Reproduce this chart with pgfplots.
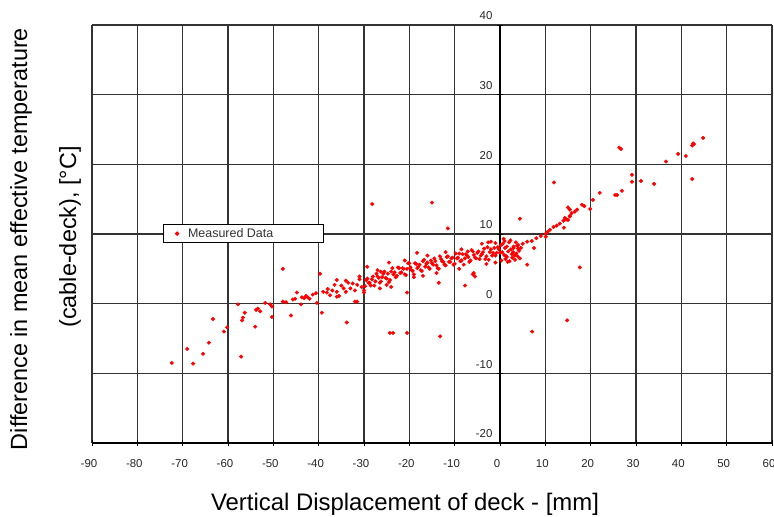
\documentclass[border=0pt]{standalone}
\usepackage{fontspec}
\setmainfont{Liberation Sans}
\usepackage{pgfplots}
\pgfplotsset{compat=1.18}

\begin{document}
\begin{tikzpicture}
\useasboundingbox (0bp,0bp) rectangle (774bp,517bp);
\begin{axis}[
  at={(92bp,74bp)}, anchor=south west,
  width=680bp, height=418bp, scale only axis,
  xmin=-90, xmax=60, ymin=-20, ymax=40,
  xtick={-90,-80,...,60}, ytick={-20,-10,...,40},
  axis x line=bottom, axis y line=middle,
  hide obscured x ticks=false, hide obscured y ticks=false,
  axis line style={-, line width=1.8bp, black},
  grid=major, major grid style={line width=1.1bp, black!80},
  tick style={black, line width=1bp}, tick align=center, major tick length=6bp,
  ticklabel style={font=\fontsize{11.5}{13}\selectfont, text=black!85},
  /pgf/number format/assume math mode=true,
  xticklabel style={yshift=-10bp, xshift=-3bp},
  yticklabel style={yshift=9bp, xshift=-1bp},
  legend style={at={(0.104,0.524)}, anchor=north west, draw=black, line width=0.8bp,
    fill=white, font=\fontsize{12.5}{14}\selectfont, text=black!80, inner ysep=2bp},
  legend cell align=left,
  legend image code/.code={
    \draw[draw=none] (0bp,0bp) -- (20bp,0bp);
    \draw[only marks] plot coordinates {(11bp,0bp)};},
]
\addplot[only marks, mark=*, mark size=1.8bp, color=red] coordinates {
(-72.4,-8.5) (-67.7,-8.6) (-69.0,-6.5) (-65.5,-7.2) (-64.2,-5.6) (-63.3,-2.2)
(-60.9,-4.0) (-60.2,-3.4) (-57.8,-0.1) (-57.1,-7.6) (-56.9,-2.4) (-56.7,-2.0)
(-56.3,-1.3) (-54.0,-3.3) (-53.8,-0.9) (-53.4,-0.7) (-52.9,-1.1) (-51.8,0.1)
(-50.7,-0.1) (-50.3,-0.4) (-50.3,-1.9) (-47.9,5.0) (-47.9,0.3) (-47.2,0.2)
(-46.1,-1.7) (-45.7,0.6) (-45.2,0.7) (-44.8,1.6) (-43.9,-0.1) (-43.7,0.9)
(-43.2,0.8) (-42.8,1.1) (-42.4,0.9) (-42.0,0.7) (-41.3,1.3) (-40.6,1.5)
(-40.4,0.1) (-39.7,4.3) (-39.3,-1.3) (-39.0,1.7) (-38.2,1.6)
(-28.2,14.3) (-33.8,-2.7) (-32.0,0.3) (-31.5,0.3) (-29.3,5.3) (-26.3,4.6)
(-24.3,-4.2) (-23.6,-4.2) (-20.5,-4.2) (-20.5,1.6) (-15.0,14.5) (-11.5,10.8)
(-13.5,3.0) (-7.7,2.6) (-6.0,4.2) (-5.5,3.9) (-5.8,4.4) (-13.2,-4.7)
(-24.0,2.4) (-26.5,2.2) (-36.0,3.4)
(-38,2.1) (-37.5,1.2) (-37,1.9) (-36.5,2.7) (-36,1.7) (-35.5,1.1) (-35,2.6)
(-34.5,2.2) (-34,1.7) (-33.5,3.0) (-33,2.2) (-32.5,2.9) (-32,1.9) (-31.5,2.7)
(-31,3.5) (-30.5,2.4) (-30,1.9) (-29.5,3.4) (-29,3.0) (-28.5,2.6) (-28,3.9)
(-27.5,3.2) (-27,3.9) (-26.5,3.0) (-26,3.8) (-25.5,4.6) (-25,3.6) (-24.5,3.1)
(-24,4.6) (-23.5,4.2) (-23,3.8) (-22.5,5.2) (-22,4.4) (-21.5,5.1) (-21,4.2)
(-20.5,5.0) (-20,5.8) (-19.5,4.8) (-19,4.2) (-18.5,5.7) (-18,5.3) (-17.5,4.8)
(-17,6.1) (-16.5,5.3) (-16,5.9) (-15.5,5.0) (-15,5.8) (-14.5,6.5) (-14,5.5)
(-13.5,5.0) (-13,6.4) (-12.5,6.0) (-12,5.5) (-11.5,6.8) (-11,6.0) (-10.5,6.6)
(-10,5.7) (-9.5,6.5) (-9,7.2) (-8.5,6.2) (-8,5.6) (-7.5,7.1) (-7,6.7)
(-6.5,6.2) (-6,7.5) (-5.5,6.6) (-5,7.3) (-4.5,6.4) (-4,7.1) (-3.5,7.9)
(-3,6.8) (-2.5,6.3) (-2,7.8) (-1.5,7.3) (-1,6.9) (-0.5,8.1) (0,7.3)
(-29.75,2.5) (-29.25,3.6) (-28.75,3.0) (-28.25,3.5) (-27.75,2.6) (-27.25,4.3)
(-26.75,3.7) (-26.25,3.2) (-25.75,4.3) (-25.25,3.7) (-24.75,4.3) (-24.25,3.4)
(-23.75,5.1) (-23.25,4.5) (-22.75,4.0) (-22.25,5.1) (-21.75,4.5) (-21.25,5.0)
(-20.75,4.1) (-20.25,5.8) (-19.75,5.2) (-19.25,4.7) (-18.75,5.8) (-18.25,5.1)
(-17.75,5.6) (-17.25,4.7) (-16.75,6.3) (-16.25,5.7) (-15.75,5.2) (-15.25,6.2)
(-14.75,5.6) (-14.25,6.1) (-13.75,5.1) (-13.25,6.8) (-12.75,6.1) (-12.25,5.6)
(-11.75,6.7) (-11.25,6.0) (-10.75,6.5) (-10.25,5.6) (-9.75,7.2) (-9.25,6.6)
(-8.75,6.1) (-8.25,7.1) (-7.75,6.5) (-7.25,6.9) (-6.75,6.0) (-6.25,7.7)
(-5.75,7.0) (-5.25,6.5) (-4.75,7.5) (-4.25,6.9) (-3.75,7.4) (-3.25,6.4)
(-2.75,8.1) (-2.25,7.4) (-1.75,6.9) (-1.25,8.0) (-0.75,7.3) (-0.25,7.8)
(-18.3,7.3) (-24.5,5.9) (-12,7.4) (-16,6.9) (-8.5,7.8) (-4,8.6) (-21,6.2)
(-27,4.8) (-31,3.9) (-34,3.3) (-14,4.4) (-19,3.8) (-25,2.7) (-9,5.0)
(-3,5.7) (-1,5.9) (-17,4.0) (-30,1.6) (-36,1.0) (-2.6,8.8) (-7.1,7.5)
(-1.0,8.7) (-2.0,8.9)
(0.3,6.2) (0.6,8.6) (0.9,7.0) (1.2,6.4) (1.5,8.2) (1.8,7.5) (2.1,6.1)
(2.4,7.8) (2.7,6.6) (3.0,8.0) (3.3,6.3) (3.6,7.2) (3.9,6.8) (4.2,7.6)
(0.5,7.4) (1.0,9.0) (1.4,6.8) (2.0,8.8) (2.6,7.1) (3.2,6.9) (3.8,8.3)
(4.4,6.5) (0.2,8.4) (1.7,6.0) (2.9,7.4) (0.8,9.3) (3.5,8.8) (4.6,8.0)
(2.3,9.1) (1.1,8.0) (4.0,7.9) (1.5,6.7)
(3,8.2) (4,8.4) (5,8.6) (6,8.9) (7,9.0) (8,9.4) (9,9.7) (10,10.0)
(10.5,10.3) (11,10.6) (11.8,11.0) (12.5,11.2) (13.2,11.5) (14,11.9)
(14.6,12.1) (16.5,13.2) (17,13.5) (10.1,9.6)
(11.9,17.4) (4.4,12.2) (17.6,5.2) (14.8,-2.4) (7.1,-4.0) (7.5,8.0) (6.0,5.6)
(14.1,10.9) (26.3,22.4) (26.7,22.2) (29.1,18.5) (29.1,17.5) (31.1,17.6)
(34.0,17.2) (36.6,20.4) (39.3,21.5) (41.0,21.2) (42.4,22.7) (42.6,23.0)
(42.8,22.9) (44.8,23.8) (42.4,17.9) (22.0,15.9) (25.4,15.6) (25.8,15.6)
(26.9,16.2) (20.5,14.9) (19.9,13.6) (18.1,14.2) (18.6,14.0) (15.4,12.5)
(15.8,13.0) (15.0,12.0) (15.0,13.8) (15.4,13.5) (14.3,12.3) (15.4,12.6)
};
\addlegendentry{Measured Data\hspace*{45bp}}
\end{axis}
\node[rotate=90, font=\fontsize{23.5}{28}\selectfont] at (21bp,278bp) {Difference in mean effective temperature};
\node[rotate=90, font=\fontsize{23.5}{28}\selectfont] at (70bp,280bp) {(cable-deck), [°C]};
\node[font=\fontsize{24}{28}\selectfont] at (405bp,13bp) {Vertical Displacement of deck - [mm]};
\end{tikzpicture}
\end{document}
